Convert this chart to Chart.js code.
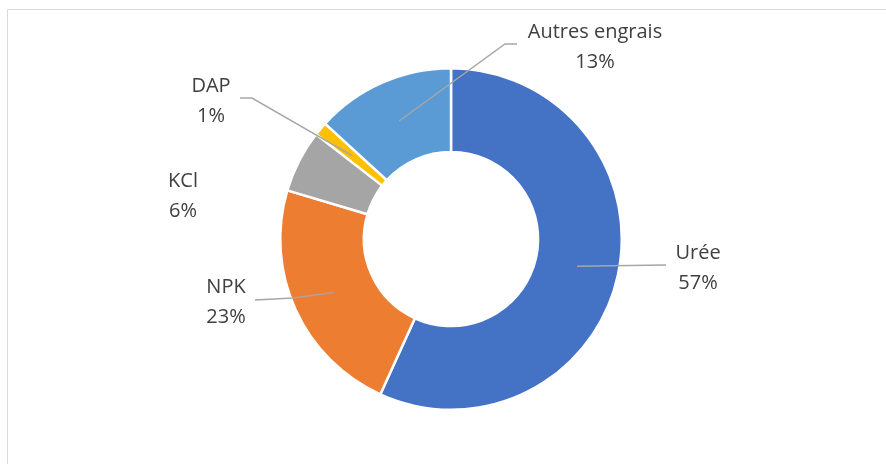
<!DOCTYPE html>
<html>
<head>
<meta charset="utf-8">
<script src="https://cdn.jsdelivr.net/npm/chart.js@4.4.0/dist/chart.umd.min.js"></script>
<style>
    html, body { margin: 0; padding: 0; background: #fff; }
    #wrap { width: 886px; height: 464px; position: relative; }
</style>
</head>
<body>
<div id="wrap"><canvas id="engraisChart"></canvas></div>
<script>
// Part of each fertiliser in total consumption (%)
const categories = ['Urée', 'NPK', 'KCl', 'DAP', 'Autres engrais'];
const shares = [56.8, 22.8, 5.9, 1.3, 13.2];
const sliceColors = ['#4472C4', '#ED7D31', '#A5A5A5', '#FFC000', '#5B9BD5'];

// where each data label sits: text centre x, first baseline y, leader bends
const labelLayout = [
    { x: 698, y: 259, path: [[666, 265]] },
    { x: 226, y: 293, path: [[293, 298], [255, 300]] },
    { x: 183, y: 187, path: null },
    { x: 211, y: 92,  path: [[252, 98], [240, 98]] },
    { x: 595, y: 38,  path: [[505, 44], [517, 44]] }
];

const FONT = "20px 'Open Sans', 'Noto Sans', sans-serif";

// light frame of the chart area, as in the spreadsheet
const framePlugin = {
    id: 'frame',
    beforeDraw(chart) {
        const c = chart.ctx;
        c.save();
        c.strokeStyle = '#D9D9D9';
        c.lineWidth = 1;
        c.beginPath();
        c.moveTo(7.5, chart.height);
        c.lineTo(7.5, 9.5);
        c.lineTo(chart.width, 9.5);
        c.stroke();
        c.restore();
    }
};

// data labels with leader lines
const labelPlugin = {
    id: 'calloutLabels',
    afterDatasetsDraw(chart) {
        const c = chart.ctx;
        const meta = chart.getDatasetMeta(0);
        c.save();
        meta.data.forEach(function(arc, i) {
            const lay = labelLayout[i];
            if (lay.path) {
                const p = arc.tooltipPosition();
                c.strokeStyle = '#A6A6A6';
                c.lineWidth = 1.5;
                c.beginPath();
                c.moveTo(p.x, p.y);
                lay.path.forEach(pt => c.lineTo(pt[0], pt[1]));
                c.stroke();
            }
            c.font = FONT;
            c.fillStyle = '#404040';
            c.textAlign = 'center';
            c.textBaseline = 'alphabetic';
            c.fillText(categories[i], lay.x, lay.y);
            c.fillText(Math.round(shares[i]) + '%', lay.x, lay.y + 30);
        });
        c.restore();
    }
};

const ctx = document.getElementById('engraisChart').getContext('2d');
new Chart(ctx, {
    type: 'doughnut',
    data: {
        labels: categories,
        datasets: [{
            data: shares,
            backgroundColor: sliceColors,
            borderColor: '#FFFFFF',
            borderWidth: 2.5,
            hoverOffset: 0
        }]
    },
    options: {
        responsive: true,
        maintainAspectRatio: false,
        animation: false,
        events: [],
        cutout: '51%',
        layout: {
            padding: { top: 67, bottom: 53, left: 279, right: 263 }
        },
        plugins: {
            legend: { display: false },
            tooltip: { enabled: false }
        }
    },
    plugins: [framePlugin, labelPlugin]
});
</script>
</body>
</html>
